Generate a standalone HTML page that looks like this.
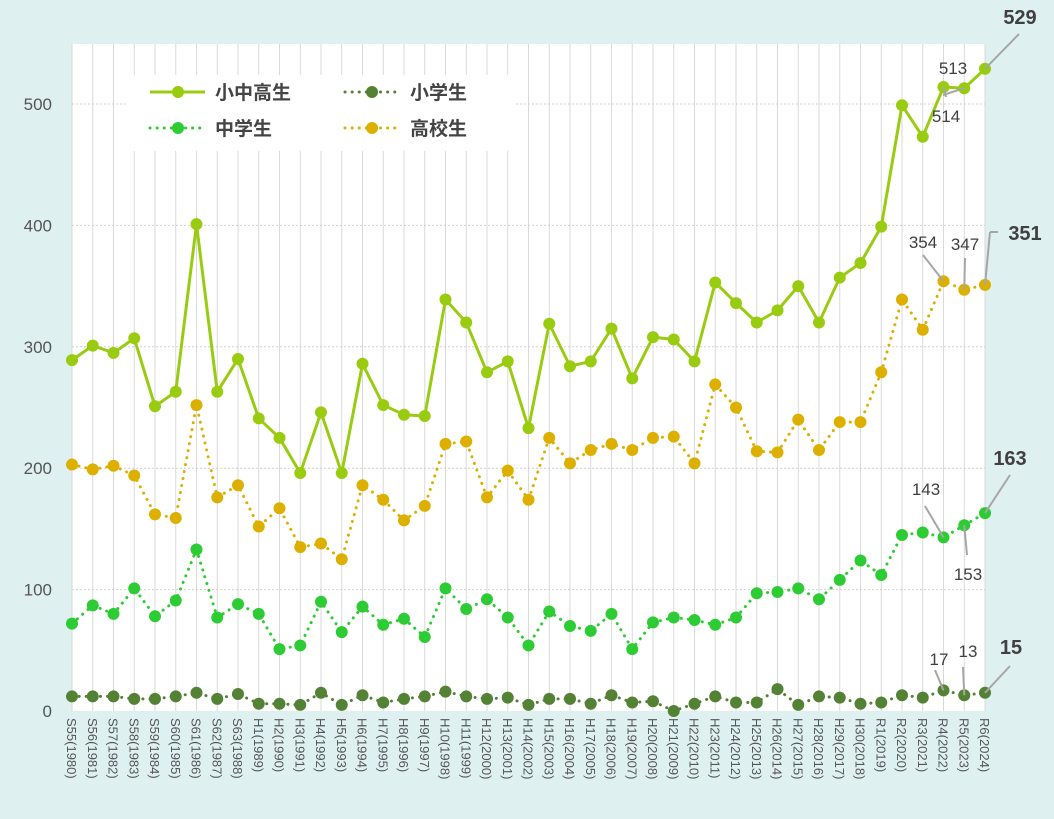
<!DOCTYPE html>
<html><head><meta charset="utf-8">
<style>
html,body{margin:0;padding:0;background:#dff0f0;}
svg{display:block;font-family:"Liberation Sans","Noto Sans CJK JP",sans-serif;}
</style></head>
<body>
<svg id="chart" width="1054" height="819" viewBox="0 0 1054 819">
<rect x="0" y="0" width="1054" height="819" fill="#dff0f0"/>
<rect x="72" y="44" width="913" height="667" fill="#ffffff"/>
<g id="grid"></g><g id="axes"></g><g id="series"></g><g id="labels"></g>
<g>
<rect x="127" y="75" width="388" height="76" fill="#ffffff"/>
<g>
<line x1="150" y1="92" x2="205" y2="92" stroke="#99cc11" stroke-width="3"/><circle cx="178" cy="92" r="6" fill="#99cc11"/>
<text x="215" y="99" font-size="19" font-weight="bold" fill="#444">小中高生</text></g>
<g>
<line x1="345" y1="92" x2="400" y2="92" stroke="#548235" stroke-width="3" stroke-dasharray="0.1 7" stroke-linecap="round"/><circle cx="372" cy="92" r="6" fill="#548235"/>
<text x="410" y="99" font-size="19" font-weight="bold" fill="#444">小学生</text></g>
<g>
<line x1="150" y1="128" x2="205" y2="128" stroke="#2ecc34" stroke-width="3" stroke-dasharray="0.1 7" stroke-linecap="round"/><circle cx="178" cy="128" r="6" fill="#2ecc34"/>
<text x="215" y="135" font-size="19" font-weight="bold" fill="#444">中学生</text></g>
<g>
<line x1="345" y1="128" x2="400" y2="128" stroke="#ddb000" stroke-width="3" stroke-dasharray="0.1 7" stroke-linecap="round"/><circle cx="372" cy="128" r="6" fill="#ddb000"/>
<text x="410" y="135" font-size="19" font-weight="bold" fill="#444">高校生</text></g>
</g>
</svg>
<script>
const categories=["S55(1980)","S56(1981)","S57(1982)","S58(1983)","S59(1984)","S60(1985)","S61(1986)","S62(1987)","S63(1988)","H1(1989)","H2(1990)","H3(1991)","H4(1992)","H5(1993)","H6(1994)","H7(1995)","H8(1996)","H9(1997)","H10(1998)","H11(1999)","H12(2000)","H13(2001)","H14(2002)","H15(2003)","H16(2004)","H17(2005)","H18(2006)","H19(2007)","H20(2008)","H21(2009)","H22(2010)","H23(2011)","H24(2012)","H25(2013)","H26(2014)","H27(2015)","H28(2016)","H29(2017)","H30(2018)","R1(2019)","R2(2020)","R3(2021)","R4(2022)","R5(2023)","R6(2024)"];
const totalValues=[289,301,295,307,251,263,401,263,290,241,225,196,246,196,286,252,244,243,339,320,279,288,233,319,284,288,315,274,308,306,288,353,336,320,330,350,320,357,369,399,499,473,514,513,529];
const highValues=[203,199,202,194,162,159,252,176,186,152,167,135,138,125,186,174,157,169,220,222,176,198,174,225,204,215,220,215,225,226,204,269,250,214,213,240,215,238,238,279,339,314,354,347,351];
const middleValues=[72,87,80,101,78,91,133,77,88,80,51,54,90,65,86,71,76,61,101,84,92,77,54,82,70,66,80,51,73,77,75,71,77,97,98,101,92,108,124,112,145,147,143,153,163];
const elemValues=[12,12,12,10,10,12,15,10,14,6,6,5,15,5,13,7,10,12,16,12,10,11,5,10,10,6,13,7,8,0,6,12,7,7,18,5,12,11,6,7,13,11,17,13,15];
const yTicks=[0,100,200,300,400,500];

const NS="http://www.w3.org/2000/svg";
const X0=72,X1=985,Y0=711,PER=1.214;
const xs=i=>X0+i*(X1-X0)/(categories.length-1);
const ys=v=>Y0-v*PER;
function mk(tag,attrs,parent){const e=document.createElementNS(NS,tag);for(const k in attrs)e.setAttribute(k,attrs[k]);parent.appendChild(e);return e;}
const grid=document.getElementById('grid'),axes=document.getElementById('axes'),ser=document.getElementById('series'),lab=document.getElementById('labels');

categories.forEach((c,i)=>{
  const l=mk('line',{x1:xs(i),x2:xs(i),y1:44,y2:Y0,stroke:'#d9d9d9','stroke-width':1},grid);
  
  
  const t=mk('text',{x:0,y:0,'font-size':13,fill:'#555',transform:`translate(${xs(i)-5},${Y0+7}) rotate(90)`},axes);
  t.textContent=c;
  
  
});
yTicks.forEach(v=>{
  if(v>0){const l=mk('line',{x1:X0,x2:X1,y1:ys(v),y2:ys(v),stroke:'#cfcfcf','stroke-width':1,'stroke-dasharray':'2 2'},grid);
  
  }
  const t=mk('text',{x:52,y:ys(v)+6,'font-size':17,fill:'#555','text-anchor':'end'},axes);
  t.textContent=v;
  
  
});

function series(vals,color,dashed,name){
  const g=mk('g',{},ser);
  
  
  const pts=vals.map((v,i)=>xs(i)+','+ys(v)).join(' ');
  const pl=mk('polyline',{points:pts,fill:'none',stroke:color,'stroke-width':3,'stroke-dasharray':dashed?'0.1 7':'none','stroke-linecap':'round','stroke-linejoin':'round'},g);
  
  
  vals.forEach((v,i)=>{const c=mk('circle',{cx:xs(i),cy:ys(v),r:6,fill:color},g);
    
    });
}
series(elemValues,'#548235',true,'elementary-series');
series(middleValues,'#2ecc34',true,'middle-series');
series(highValues,'#ddb000',true,'high-series');
series(totalValues,'#99cc11',false,'total-series');

function callout(i,vals,text,lx,ly,tx,ty,bold){
  const px=xs(i),py=ys(vals[i]);
  const l=mk('polyline',{points:`${px},${py} ${lx},${ly}`,fill:'none',stroke:'#a6a6a6','stroke-width':2},lab);
  
  
  const t=mk('text',{x:tx,y:ty,'font-size':bold?20:17,'font-weight':bold?'bold':'normal',fill:'#404040','text-anchor':'middle'},lab);
  t.textContent=text;
  
  
}
callout(44,totalValues,totalValues[44],1019,34,1020,24,true);
callout(43,totalValues,'513',943,95,953,74,false);
callout(42,totalValues,'514',946,97,946,122,false);
callout(42,highValues,'354',923,255,923,248,false);
callout(43,highValues,'347',965,258,965,250,false);
callout(44,highValues,highValues[44],990,232,1025,240,true);
const l2=mk('line',{x1:990,y1:232,x2:998,y2:232,stroke:'#a6a6a6','stroke-width':2},lab);


callout(42,middleValues,'143',925,506,926,495,false);
callout(43,middleValues,'153',967,555,968,580,false);
callout(44,middleValues,middleValues[44],1010,475,1010,465,true);
callout(42,elemValues,'17',935,670,939,665,false);
callout(43,elemValues,'13',963,667,968,657,false);
callout(44,elemValues,elemValues[44],1010,666,1011,654,true);
</script>
</body></html>
